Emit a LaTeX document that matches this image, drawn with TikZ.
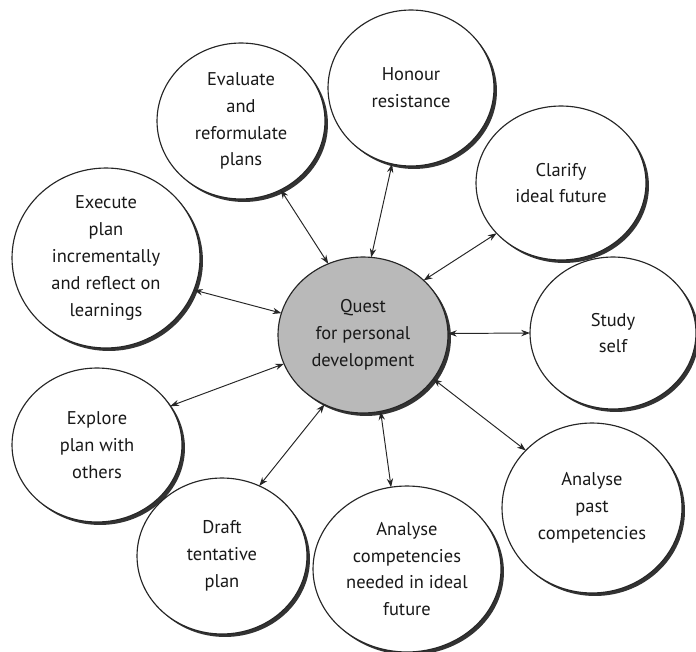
\documentclass[tikz,border=0pt]{standalone}
\usepackage{fontspec}
\setmainfont{PT Sans}
\usetikzlibrary{shapes.geometric,shadows,arrows.meta}
\begin{document}
\begin{tikzpicture}[x=0.02cm,y=-0.02cm,
  bubble/.style={ellipse, draw=black!85, line width=0.65pt, fill=white, inner sep=0pt, outer sep=0pt,
    align=center, text=black!90, font=\fontsize{10.5}{15.3}\selectfont,
    drop shadow={shadow xshift=1.7pt, shadow yshift=-1.7pt, opacity=1, fill=black!80}},
  link/.style={{Stealth[length=5pt,width=3.6pt]}-{Stealth[length=5pt,width=3.6pt]}, line width=0.55pt, draw=black!85}]
\useasboundingbox (0,0) rectangle (696,652);

\node[bubble, fill=gray!55, minimum width=3.4cm, minimum height=3.12cm] (c) at (363,335) {Quest\\for personal\\development};

\node[bubble, minimum width=3.36cm, minimum height=3.12cm] (eval) at (241,121) {Evaluate\\and\\reformulate\\plans};
\node[bubble, minimum width=3.32cm, minimum height=3.12cm] (hon) at (411,88) {Honour\\resistance};
\node[bubble, minimum width=3.4cm, minimum height=3.08cm] (clar) at (561,183) {Clarify\\ideal future};
\node[bubble, minimum width=3.76cm, minimum height=3.6cm] (exec) at (106,258) {Execute\\plan\\incrementally\\and reflect on\\learnings};
\node[bubble, minimum width=3.32cm, minimum height=3.04cm] (study) at (613,333) {Study\\self};
\node[bubble, minimum width=3.4cm, minimum height=3.08cm] (expl) at (97,445) {Explore\\plan with\\others};
\node[bubble, minimum width=3.6cm, minimum height=3.4cm] (past) at (592,508) {Analyse\\past\\competencies};
\node[bubble, minimum width=3.4cm, minimum height=3.12cm] (draft) at (222,556) {Draft\\tentative\\plan};
\node[bubble, minimum width=3.76cm, minimum height=3.32cm] (need) at (407,569) {Analyse\\competencies\\needed in ideal\\future};

\draw[link] (eval.-60.4) -- (c.116.9);
\draw[link] (hon.-104.9) -- (c.84.3);
\draw[link] (clar.-142.9) -- (c.42.1);
\draw[link] (exec.-20.5) -- (c.165.2);
\draw[link] (study.180) -- (c.1.4);
\draw[link] (expl.28.1) -- (c.-160.3);
\draw[link] (draft.62.5) -- (c.-119.4);
\draw[link] (need.101.3) -- (c.-77);
\draw[link] (past.139.8) -- (c.-32.6);
\end{tikzpicture}
\end{document}
